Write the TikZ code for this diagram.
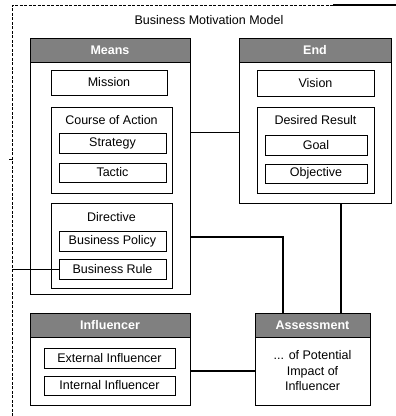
\documentclass[tikz,border=0pt]{standalone}
\usepackage{fontspec}
\setmainfont{Liberation Sans}
\definecolor{hdrgray}{RGB}{128,128,128}
\tikzset{
  sized/.style 2 args={minimum width=#1,minimum height=#2},
  header/.style={fill=hdrgray,text=white,font=\fontsize{12.5}{14}\selectfont\bfseries},
  frameline/.style={line width=0.6pt,dash pattern=on 3pt off 1.5pt},
  thinlink/.style={line width=0.9pt},
  thicklink/.style={line width=1.7pt}
}
\begin{document}
\begin{tikzpicture}[x=1pt,y=-1pt,font=\fontsize{12.5}{14}\selectfont]
  \useasboundingbox (0,0) rectangle (396,416);

  % outer frame
  \draw[frameline] (12,416) -- (12,5) -- (333,5);
  \draw[line width=1.2pt] (333,5) -- (396,5);
  \draw[line width=0.8pt] (9,159) -- (13,159);
  \coordinate (frameleft) at (12,269);
  \node (title) at (209,20) {Business Motivation Model};

  \begin{scope}[every node/.style={draw,line width=0.8pt,inner sep=0pt}]
    % means
    \node[sized={160pt}{232pt}] (means) at (110,178) {};
    \node[header,sized={160pt}{24pt}] (meanshead) at (110,50) {Means};
    \node[sized={116pt}{25pt}] (mission) at (109,82.5) {Mission};
    \node[sized={121pt}{86pt}] (coa) at (111.5,150) {};
    \node[sized={107pt}{20pt}] (strategy) at (112.5,143) {Strategy};
    \node[sized={107pt}{19pt}] (tactic) at (112.5,172.5) {Tactic};
    \node[sized={121pt}{85pt}] (directive) at (111.5,245.5) {};
    \node[sized={107pt}{20pt}] (policy) at (112.5,241) {Business Policy};
    \node[sized={107pt}{20pt}] (rule) at (112.5,269) {Business Rule};

    % end
    \node[sized={152pt}{141pt}] (endbody) at (315,132.5) {};
    \node[header,sized={152pt}{24pt}] (endhead) at (315,50) {End};
    \node[sized={117pt}{26pt}] (vision) at (315.5,83) {Vision};
    \node[sized={117pt}{86pt}] (desired) at (315.5,150) {};
    \node[sized={102pt}{20pt}] (goal) at (316,145) {Goal};
    \node[sized={102pt}{19pt}] (objective) at (316,173.5) {Objective};

    % influencer
    \node[sized={160pt}{68pt}] (infbody) at (110,371) {};
    \node[header,sized={160pt}{24pt}] (infhead) at (110,325) {Influencer};
    \node[sized={131pt}{20pt}] (external) at (109.5,358) {External Influencer};
    \node[sized={131pt}{19pt}] (internal) at (109.5,385.5) {Internal Influencer};

    % assessment
    \node[sized={115pt}{68pt},align=center,font=\fontsize{12.5}{15.5}\selectfont]
      (assbody) at (312.5,371) {... of Potential\\Impact of\\Influencer};
    \node[header,sized={115pt}{24pt}] (asshead) at (312.5,325) {Assessment};
  \end{scope}

  \begin{scope}[every node/.style={inner sep=0pt}]
    \node (coalabel) at (111.5,120) {Course of Action};
    \node (directivelabel) at (111.5,217) {Directive};
    \node (desiredlabel) at (315.5,120) {Desired Result};
  \end{scope}

  % connectors
  \draw[thinlink] (endbody.west) -- (endbody.west -| means.east);
  \draw[thinlink] (rule.west) -- (frameleft);
  \draw[thicklink] ([xshift=28.5pt]asshead.north) -- ([xshift=28.5pt]asshead.north |- endbody.south);
  \draw[thicklink] ([yshift=-59pt]means.east) -| ([xshift=-29.5pt]asshead.north);
  \draw[thicklink] (infbody.east) -- (infbody.east -| assbody.west);

\end{tikzpicture}
\end{document}
